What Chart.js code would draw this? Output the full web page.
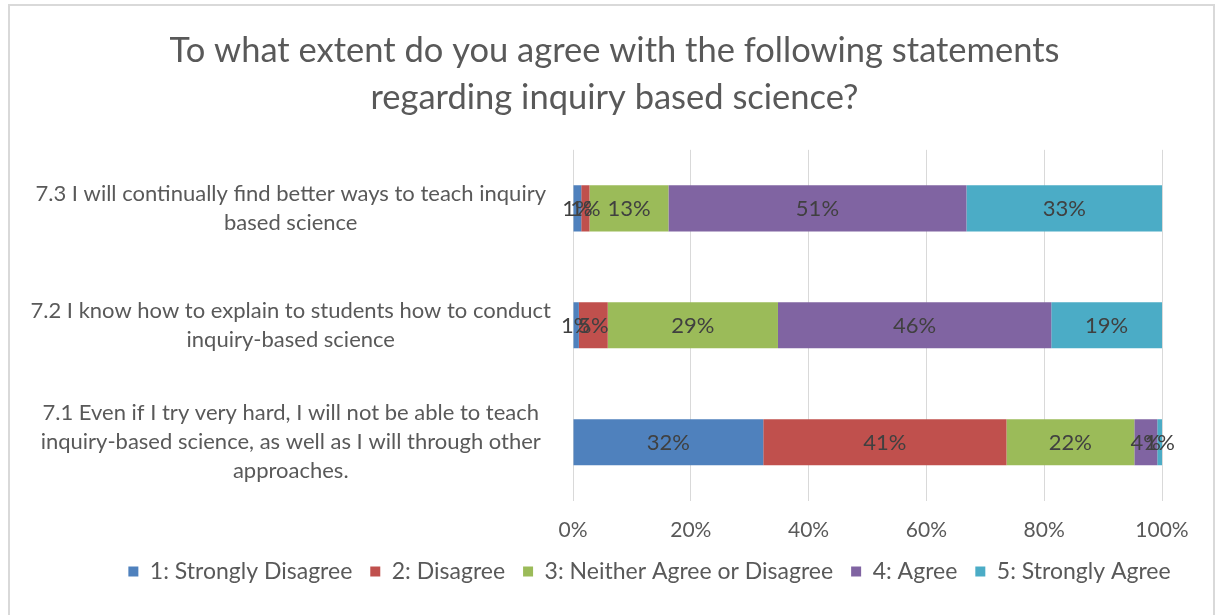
<!DOCTYPE html>
<html>
<head>
<meta charset="utf-8">
<script src="https://cdn.jsdelivr.net/npm/chart.js@4/dist/chart.umd.min.js"></script>
<style>
    html, body {
        margin: 0;
        padding: 0;
        background: #ffffff;
    }

    #frame {
        position: absolute;
        left: 8px;
        top: 4px;
        width: 1207px;
        height: 620px;
        border: 2px solid #d9d9d9;
        box-sizing: border-box;
    }

    #holder {
        position: absolute;
        left: 0;
        top: 0;
        width: 1218px;
        height: 615px;
    }
</style>
</head>
<body>
<div id="frame"></div>
<div id="holder"><canvas id="barChart"></canvas></div>
<script>
// Statements, listed top to bottom
const statements = [
    ['7.3 I will continually find better ways to teach inquiry', 'based science'],
    ['7.2 I know how to explain to students how to conduct', 'inquiry-based science'],
    ['7.1 Even if I try very hard, I will not be able to teach', 'inquiry-based science, as well as I will through other', 'approaches.']
];

const responseLevels = [
    '1: Strongly Disagree',
    '2: Disagree',
    '3: Neither Agree or Disagree',
    '4: Agree',
    '5: Strongly Agree'
];

// Share of answers (%) per response level, one entry per statement
const stronglyDisagree = [1.4, 1.0, 32.3];
const disagree = [1.4, 4.9, 41.3];
const neither = [13.4, 28.9, 21.7];
const agree = [50.6, 46.4, 3.9];
const stronglyAgree = [33.2, 18.8, 0.8];

const xTicks = [0, 20, 40, 60, 80, 100];

const levelColors = ['#4f81bd', '#c0504d', '#9bbb59', '#8064a2', '#4bacc6'];

function initCharts() {

    GenerateBarChart();
}

// Writes the rounded percentage in the middle of every bar segment
const segmentLabels = {
    id: 'segmentLabels',
    afterDatasetsDraw: function (chart) {
        var ctx = chart.ctx;
        ctx.save();
        ctx.font = '22px Lato';
        ctx.fillStyle = '#404040';
        ctx.textAlign = 'center';
        ctx.textBaseline = 'middle';

        chart.data.datasets.forEach(function (dataSet, i) {
            var meta = chart.getDatasetMeta(i);

            meta.data.forEach(function (bar, j) {
                var props = bar.getProps(['x', 'y', 'base'], true);
                var value = dataSet.data[j];

                ctx.fillText(Math.round(value) + '%', (props.x + props.base) / 2, props.y + 1);
            });
        });

        ctx.restore();
    }
};

// Title and legend are centred on the whole frame rather than on the plot,
// and the legend row is pulled up closer to the axis labels
const centreBlocks = {
    id: 'centreBlocks',
    afterLayout: function (chart) {
        if (chart.titleBlock) {
            chart.titleBlock.left += 21;
            chart.titleBlock.right += 21;
        }
        if (chart.legend) {
            chart.legend.left += 56;
            chart.legend.right += 56;
            chart.legend.top -= 18;
            chart.legend.bottom -= 18;
        }
    }
};

function GenerateBarChart() {
    var barChartControl = document.getElementById('barChart');

    const seriesValues = [stronglyDisagree, disagree, neither, agree, stronglyAgree];

    var barChart = new Chart(barChartControl, {
        type: 'bar',
        data: {
            labels: statements,
            datasets: []
        },
        plugins: [segmentLabels, centreBlocks],
        options: {
            indexAxis: 'y',
            responsive: true,
            maintainAspectRatio: false,
            animation: false,
            devicePixelRatio: 1,
            layout: {
                padding: { top: 27, left: 25, right: 56, bottom: 4 }
            },
            scales: {
                x: {
                    stacked: true,
                    min: 0,
                    max: 100,
                    afterBuildTicks: function (scale) {
                        scale.ticks = xTicks.map(function (v) { return { value: v }; });
                    },
                    ticks: {
                        color: '#595959',
                        font: { family: 'Lato', size: 21 },
                        padding: 17,
                        maxRotation: 0,
                        callback: function (value) {
                            return value + '%';
                        }
                    },
                    grid: {
                        color: '#d9d9d9',
                        lineWidth: 1,
                        drawTicks: false
                    },
                    border: {
                        display: false
                    }
                },
                y: {
                    stacked: true,
                    afterFit: function (scale) {
                        scale.width = 548;
                    },
                    ticks: {
                        color: '#595959',
                        font: { family: 'Lato', size: 22, lineHeight: 1.32 },
                        crossAlign: 'center',
                        padding: 22
                    },
                    grid: {
                        display: false,
                        drawTicks: false
                    },
                    border: {
                        display: false
                    }
                }
            },
            plugins: {
                title: {
                    display: true,
                    text: ['To what extent do you agree with the following statements', 'regarding inquiry based science?'],
                    color: '#595959',
                    font: { family: 'Lato', size: 34.5, weight: 'normal', lineHeight: 1.36 },
                    padding: { top: 0, bottom: 29 }
                },
                legend: {
                    display: true,
                    position: 'bottom',
                    labels: {
                        color: '#595959',
                        font: { family: 'Lato', size: 23 },
                        boxWidth: 10,
                        boxHeight: 10,
                        padding: 18
                    }
                },
                tooltip: {
                    enabled: false
                }
            }
        }
    });

    var levelLoopCounter = 0;

    //Add one stacked series per response level.
    responseLevels.forEach(function (level) {

        var dataSet = {
            label: level,
            data: seriesValues[levelLoopCounter],
            backgroundColor: levelColors[levelLoopCounter],
            borderWidth: 0,
            categoryPercentage: 1,
            barPercentage: 0.394
        };

        barChart.data.datasets.push(dataSet);

        levelLoopCounter++;
    });

    barChart.update();
}

initCharts();
</script>
</body>
</html>
